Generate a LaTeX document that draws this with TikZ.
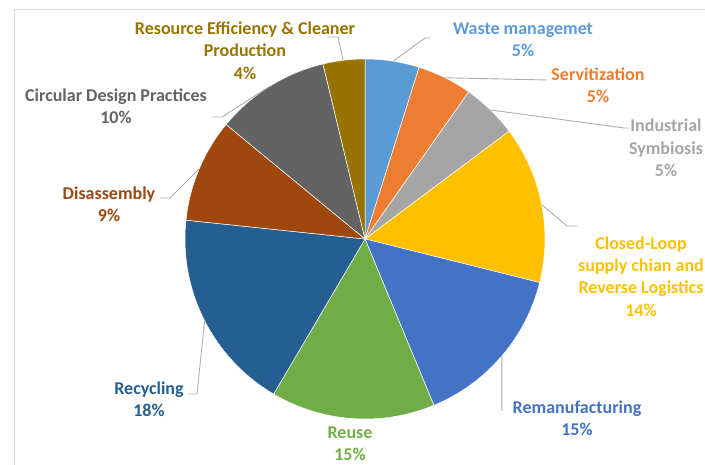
\documentclass[tikz,border=0pt]{standalone}
\usepackage{fontspec}
\setmainfont{Carlito}
\usetikzlibrary{positioning}

\definecolor{wastec}{HTML}{5B9BD5}
\definecolor{servc}{HTML}{ED7D31}
\definecolor{symbc}{HTML}{A5A5A5}
\definecolor{loopc}{HTML}{FFC000}
\definecolor{remanc}{HTML}{4472C4}
\definecolor{reusec}{HTML}{70AD47}
\definecolor{recyc}{HTML}{255E91}
\definecolor{disasc}{HTML}{9E480E}
\definecolor{designc}{HTML}{636363}
\definecolor{resc}{HTML}{997300}

\begin{document}
\begin{tikzpicture}[x=1pt, y=1pt,
  slice/.style={draw=white, line width=0.5pt, line join=round},
  lbl/.style={align=center, inner sep=1pt, font=\fontsize{18}{22.3}\selectfont\bfseries},
  leader/.style={draw=black!32, line width=0.9pt}]
  \useasboundingbox (0,0) rectangle (705,465);
  \clip (0,0) rectangle (705,465);
  \draw[black!15, line width=1pt] (14,-20) -- (14,455) -- (720,455);

  \coordinate (c) at (365,226);
  % slices, clockwise from the top
  \filldraw[slice, fill=wastec]  (c) -- ++(90:180)    arc[start angle=90,    end angle=72.5,   radius=180] -- cycle;
  \filldraw[slice, fill=servc]   (c) -- ++(72.5:180)  arc[start angle=72.5,  end angle=54.8,   radius=180] -- cycle;
  \filldraw[slice, fill=symbc]   (c) -- ++(54.8:180)  arc[start angle=54.8,  end angle=36.8,   radius=180] -- cycle;
  \filldraw[slice, fill=loopc]   (c) -- ++(36.8:180)  arc[start angle=36.8,  end angle=-14,    radius=180] -- cycle;
  \filldraw[slice, fill=remanc]  (c) -- ++(-14:180)   arc[start angle=-14,   end angle=-67.5,  radius=180] -- cycle;
  \filldraw[slice, fill=reusec]  (c) -- ++(-67.5:180) arc[start angle=-67.5, end angle=-120.5, radius=180] -- cycle;
  \filldraw[slice, fill=recyc]   (c) -- ++(-120.5:180) arc[start angle=-120.5, end angle=-186, radius=180] -- cycle;
  \filldraw[slice, fill=disasc]  (c) -- ++(-186:180)  arc[start angle=-186,  end angle=-219.5, radius=180] -- cycle;
  \filldraw[slice, fill=designc] (c) -- ++(-219.5:180) arc[start angle=-219.5, end angle=-256.5, radius=180] -- cycle;
  \filldraw[slice, fill=resc]    (c) -- ++(-256.5:180) arc[start angle=-256.5, end angle=-270, radius=180] -- cycle;

  % data labels
  \node[lbl, text=wastec]  (waste)  at (523,425)   {Waste managemet\\5\%};
  \node[lbl, text=servc]   (serv)   at (598,379.5) {Servitization\\5\%};
  \node[lbl, text=symbc]   (symb)   at (666,317)   {Industrial\\Symbiosis\\5\%};
  \node[lbl, text=loopc]   (loop)   at (641,188.5) {Closed-Loop\\supply chian and\\Reverse Logistics\\14\%};
  \node[lbl, text=remanc]  (reman)  at (577,47)    {Remanufacturing\\15\%};
  \node[lbl, text=reusec]  (reuse)  at (350,21.5)  {Reuse\\15\%};
  \node[lbl, text=recyc]   (recyc)  at (149,65.5)  {Recycling\\18\%};
  \node[lbl, text=disasc]  (disas)  at (109,261)   {Disassembly\\9\%};
  \node[lbl, text=designc] (design) at (116,358.5) {Circular Design Practices\\10\%};
  \node[lbl, text=resc]    (res)    at (245,414.3) {Resource Efficiency \& Cleaner\\Production\\4\%};

  % points on the rim and leader ends
  \coordinate (wasteE)  at ([shift={(81:180)}]c);
  \coordinate (servE)   at ([shift={(63.6:180)}]c);
  \coordinate (symbE)   at ([shift={(45.8:180)}]c);
  \coordinate (loopE)   at ([shift={(11:180)}]c);
  \coordinate (remanE)  at ([shift={(-40.5:180)}]c);
  \coordinate (recycE)  at ([shift={(-153:180)}]c);
  \coordinate (disasE)  at ([shift={(-203:180)}]c);
  \coordinate (designE) at ([shift={(-238:180)}]c);
  \coordinate (resE)    at ([shift={(-263:180)}]c);
  \coordinate (wasteK)  at (425,427);
  \coordinate (wasteT)  at (430,427);
  \coordinate (servT)   at (547,385);
  \coordinate (symbK)   at (624,337);
  \coordinate (symbT)   at (629,337);
  \coordinate (loopK)   at (567,239);
  \coordinate (loopT)   at (577,239);
  \coordinate (remanT)  at (remanE |- 0,54);
  \coordinate (recycK)  at (197,71);
  \coordinate (recycT)  at (188,71);
  \coordinate (disasK)  at (170,267);
  \coordinate (disasT)  at (160,267);
  \coordinate (designK) at (222,348);
  \coordinate (designT) at (212,348);
  \coordinate (resK)    at (338,428);
  \coordinate (resT)    at (328,428);
  \path[leader]
    (wasteE) -- (wasteK) -- (wasteT)
    (servE) -- (servT)
    (symbE) -- (symbK) -- (symbT)
    (loopE) -- (loopK) -- (loopT)
    (remanE) -- (remanT)
    (recycE) -- (recycK) -- (recycT)
    (disasE) -- (disasK) -- (disasT)
    (designE) -- (designK) -- (designT)
    (resE) -- (resK) -- (resT);
\end{tikzpicture}
\end{document}
